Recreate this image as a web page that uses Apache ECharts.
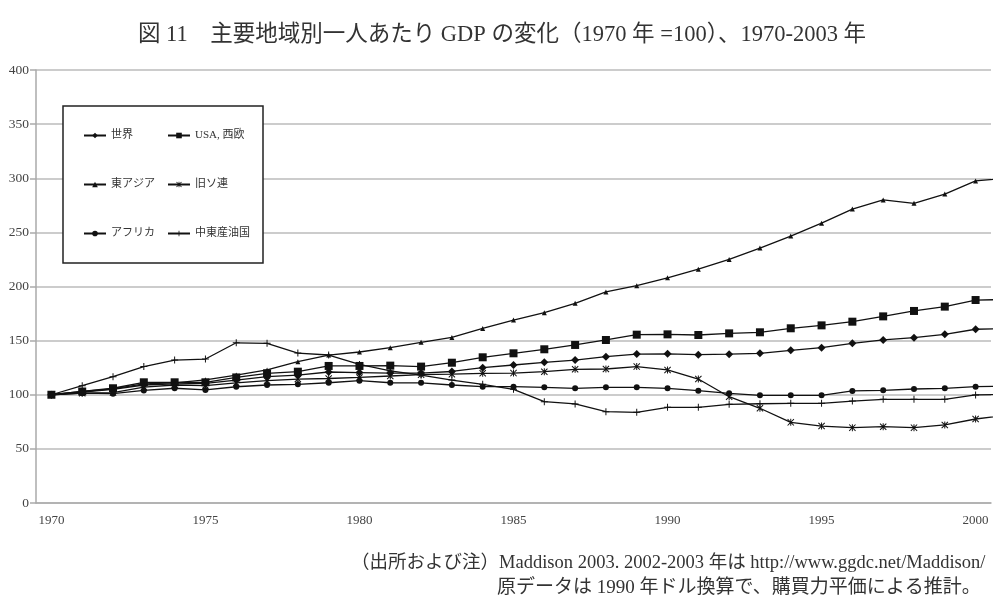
<!DOCTYPE html>
<html>
<head>
<meta charset="utf-8">
<title>図11 主要地域別一人あたりGDPの変化</title>
<style>
  html, body { margin: 0; padding: 0; background: #fff; }
  #chart { width: 1004px; height: 605px; }
</style>
</head>
<body>
<div id="chart"></div>
<script src="https://cdn.jsdelivr.net/npm/echarts@6/dist/echarts.min.js"></script>
<script>
// 年 (表示は 1970-2000、2001 は右端で切れる)
var years = [1970, 1971, 1972, 1973, 1974, 1975, 1976, 1977, 1978, 1979,
             1980, 1981, 1982, 1983, 1984, 1985, 1986, 1987, 1988, 1989,
             1990, 1991, 1992, 1993, 1994, 1995, 1996, 1997, 1998, 1999,
             2000, 2001];
var axisYears = years.slice(0, 31);

// 1970年 = 100
var world   = [100, 102.5, 105, 109, 110, 110.5, 113.6, 116.7, 118.2, 121,
               120.5, 120, 120, 121.5, 125, 127.5, 130, 132, 135.2, 137.6,
               137.8, 137, 137.5, 138.3, 141, 143.5, 147.5, 150.6, 152.7, 155.8,
               160.5, 161];
var usaWe   = [100, 103, 106, 111.5, 111.5, 111.5, 116, 119.8, 121.3, 126.6,
               126.6, 126.9, 126, 129.6, 134.6, 138.3, 142, 146, 150.6, 155.5,
               155.8, 155.2, 156.7, 157.7, 161.4, 164.1, 167.5, 172.4, 177.4, 181.4,
               187.5, 188];
var eAsia   = [100, 103, 105.5, 110, 111, 113.8, 118.2, 122.9, 130.5, 136.7,
               139.5, 143.5, 148.4, 153, 161.3, 169, 175.8, 184.5, 195, 200.8,
               208, 216, 225, 235.5, 246.6, 258.5, 271.5, 280, 276.8, 285.4,
               297.5, 300];
var ussr    = [100, 101.5, 102, 107, 109, 108.5, 111, 113, 114.5, 115,
               116, 117.3, 118.5, 119, 119.8, 120, 121.3, 123.5, 123.8, 126,
               122.9, 114.5, 98.2, 87.5, 74.5, 71.1, 69.6, 70.5, 69.6, 72.1,
               77.6, 81];
var africa  = [100, 101.5, 101, 104, 106, 104.5, 107.4, 109, 109.6, 111.1,
               113, 111.1, 111, 109, 107.5, 107.5, 106.9, 105.9, 106.9, 106.9,
               105.9, 103.8, 101.3, 99.5, 99.5, 99.5, 103.5, 104.1, 105.3, 105.9,
               107.5, 108];
var mideast = [100, 108.4, 116.7, 126, 132, 133, 148, 147.5, 138.5, 136.7,
               128, 122, 118.2, 113.6, 109.6, 105, 93.6, 91.5, 84.4, 83.8,
               88.4, 88.4, 91.2, 91.7, 92.1, 92.1, 94.2, 95.8, 95.8, 95.8,
               99.8, 100.5];

var names = ['世界', 'USA, 西欧', '東アジア', '旧ソ連', 'アフリカ', '中東産油国'];

var serifFont = '"Liberation Serif", "Noto Sans CJK JP", serif';

// マーカー形状
var starPath = 'path://M0,1 L1,0 L5,4 L9,0 L10,1 L6,5 L10,9 L9,10 L5,6 L1,10 L0,9 L4,5 Z M4.3,0 L5.7,0 L5.7,10 L4.3,10 Z';
var plusPath = 'path://M4.3,0 L5.7,0 L5.7,4.3 L10,4.3 L10,5.7 L5.7,5.7 L5.7,10 L4.3,10 L4.3,5.7 L0,5.7 L0,4.3 L4.3,4.3 Z';

function pairs(vals) {
  var out = [];
  for (var i = 0; i < vals.length; i++) {
    out.push([years[i], vals[i]]);
  }
  return out;
}

function lineSeries(name, vals, symbol, size) {
  return {
    name: name,
    type: 'line',
    xAxisIndex: 1,
    data: pairs(vals),
    symbol: symbol,
    symbolSize: size,
    showAllSymbol: true,
    clip: true,
    lineStyle: { color: '#111', width: 1.3 },
    itemStyle: { color: '#111' },
    emphasis: { disabled: true }
  };
}

function legendCol(left, items) {
  return {
    orient: 'vertical',
    left: left,
    top: 125,
    itemWidth: 22,
    itemHeight: 7,
    itemGap: 38,
    z: 5,
    data: items,
    textStyle: { fontFamily: serifFont, fontSize: 11, color: '#333' }
  };
}

var chart = echarts.init(document.getElementById('chart'));

chart.setOption({
  animation: false,
  title: {
    text: '図 11　主要地域別一人あたり GDP の変化（1970 年 =100）、1970-2003 年',
    left: 'center',
    top: 19,
    textStyle: { fontFamily: serifFont, fontSize: 22.5, fontWeight: 'normal', color: '#333' }
  },
  grid: { left: 36, right: 13, top: 70, bottom: 102 },
  legend: [
    legendCol(78, [names[0], names[2], names[4]]),
    legendCol(162, [names[1], names[3], names[5]])
  ],
  xAxis: [
    {
      type: 'category',
      data: axisYears,
      boundaryGap: true,
      axisLine: { lineStyle: { color: '#aaa', width: 1.5 } },
      axisTick: { interval: 0, length: 3, lineStyle: { color: '#999' } },
      axisLabel: { interval: 4, margin: 11, fontFamily: serifFont, fontSize: 13, color: '#444' },
      splitLine: { show: false }
    },
    {
      type: 'value',
      min: 1969.5,
      max: 2000.5,
      show: false
    }
  ],
  yAxis: {
    type: 'value',
    min: 0,
    max: 400,
    interval: 50,
    axisLine: { show: true, lineStyle: { color: '#aaa', width: 1.5 } },
    axisTick: { show: true, length: 6, lineStyle: { color: '#aaa', width: 1.5 } },
    axisLabel: { margin: 7, fontFamily: serifFont, fontSize: 13.5, color: '#444' },
    splitLine: { lineStyle: { color: '#bbb', width: 1.5 } }
  },
  graphic: [
    {
      type: 'rect',
      z: 3,
      shape: { x: 63, y: 106, width: 200, height: 157 },
      style: { fill: '#fff', stroke: '#222', lineWidth: 1.5 }
    },
    {
      type: 'text',
      z: 3,
      style: {
        x: 351, y: 563,
        text: '（出所および注）Maddison 2003. 2002-2003 年は http://www.ggdc.net/Maddison/',
        fontFamily: serifFont, fontSize: 18.5, fill: '#333',
        textVerticalAlign: 'middle'
      }
    },
    {
      type: 'text',
      z: 3,
      style: {
        x: 497, y: 588,
        text: '原データは 1990 年ドル換算で、購買力平価による推計。',
        fontFamily: serifFont, fontSize: 19, fill: '#333',
        textVerticalAlign: 'middle'
      }
    }
  ],
  series: [
    lineSeries(names[0], world, 'diamond', 8),
    lineSeries(names[1], usaWe, 'rect', 8),
    lineSeries(names[2], eAsia, 'triangle', 5),
    lineSeries(names[3], ussr, starPath, 7),
    lineSeries(names[4], africa, 'circle', 6),
    lineSeries(names[5], mideast, plusPath, 7)
  ]
});
</script>
</body>
</html>
